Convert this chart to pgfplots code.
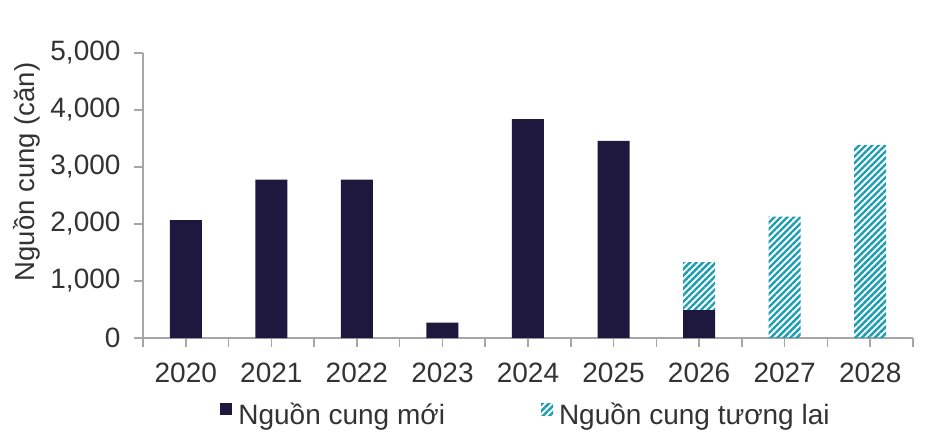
\documentclass[border=0pt]{standalone}
\usepackage{fontspec}
\setmainfont{Liberation Sans}
\usepackage{pgfplots}
\pgfplotsset{compat=1.18}
\usetikzlibrary{patterns.meta}
\definecolor{navy}{RGB}{30,24,62}
\definecolor{teal2}{RGB}{27,157,178}
\definecolor{axgray}{RGB}{166,166,166}
\definecolor{txt}{RGB}{51,51,51}
\pgfplotsset{mylegend/.style={legend image code/.code={\fill[##1] (0bp,-1bp) rectangle (12bp,11bp);}}}
\begin{document}
\begin{tikzpicture}
\begin{axis}[
 name=ax, at={(0,0)}, anchor=south west,
 scale only axis, width=770bp, height=285bp,
 ybar stacked, bar width=32bp,
 xmin=-0.5, xmax=8.5, ymin=0, ymax=5000,
 xtick={0,1,2,3,4,5,6,7,8},
 xticklabels={2020,2021,2022,2023,2024,2025,2026,2027,2028},
 extra x ticks={-0.5,0.5,1.5,2.5,3.5,4.5,5.5,6.5,7.5,8.5},
 extra x tick labels={},
 ytick={0,1000,2000,3000,4000,5000},
 axis x line*=bottom, axis y line*=left,
 axis line style={axgray, line width=1.5bp, -},
 tick style={axgray, line width=1.5bp},
 tick align=outside, major tick length=9bp,
 scaled y ticks=false,
 /pgf/number format/assume math mode=true,
 /pgf/number format/1000 sep={,},
 tick label style={font=\fontsize{28bp}{32bp}\selectfont, text=txt},
 xticklabel style={yshift=-12bp},
 yticklabel style={xshift=-10bp},
 ylabel={Nguồn cung (căn)},
 ylabel style={at={(axis description cs:-0.1403,0.583)}, anchor=base, font=\fontsize{27.5bp}{32bp}\selectfont, text=txt},
 legend style={at={(axis description cs:0.5,-0.2667)}, anchor=center, draw=none, fill=none,
   font=\fontsize{28bp}{32bp}\selectfont, text=txt,
   /tikz/every even column/.append style={column sep=90bp},
   nodes={inner xsep=6bp}},
 legend columns=2,
]
\addplot[fill=navy, draw=none, mylegend] coordinates {(0,2070) (1,2780) (2,2780) (3,270) (4,3840) (5,3460) (6,490) (7,0) (8,0)};
\addplot[pattern={Lines[angle=45,distance=4.6bp,line width=2.4bp]}, pattern color=teal2, draw=none, mylegend] coordinates {(0,0) (1,0) (2,0) (3,0) (4,0) (5,0) (6,840) (7,2130) (8,3390)};
\legend{Nguồn cung mới, Nguồn cung tương lai}
\end{axis}
\pgfresetboundingbox
\path[use as bounding box] (-143bp,-107bp) rectangle (788bp,338bp);
\end{tikzpicture}
\end{document}
